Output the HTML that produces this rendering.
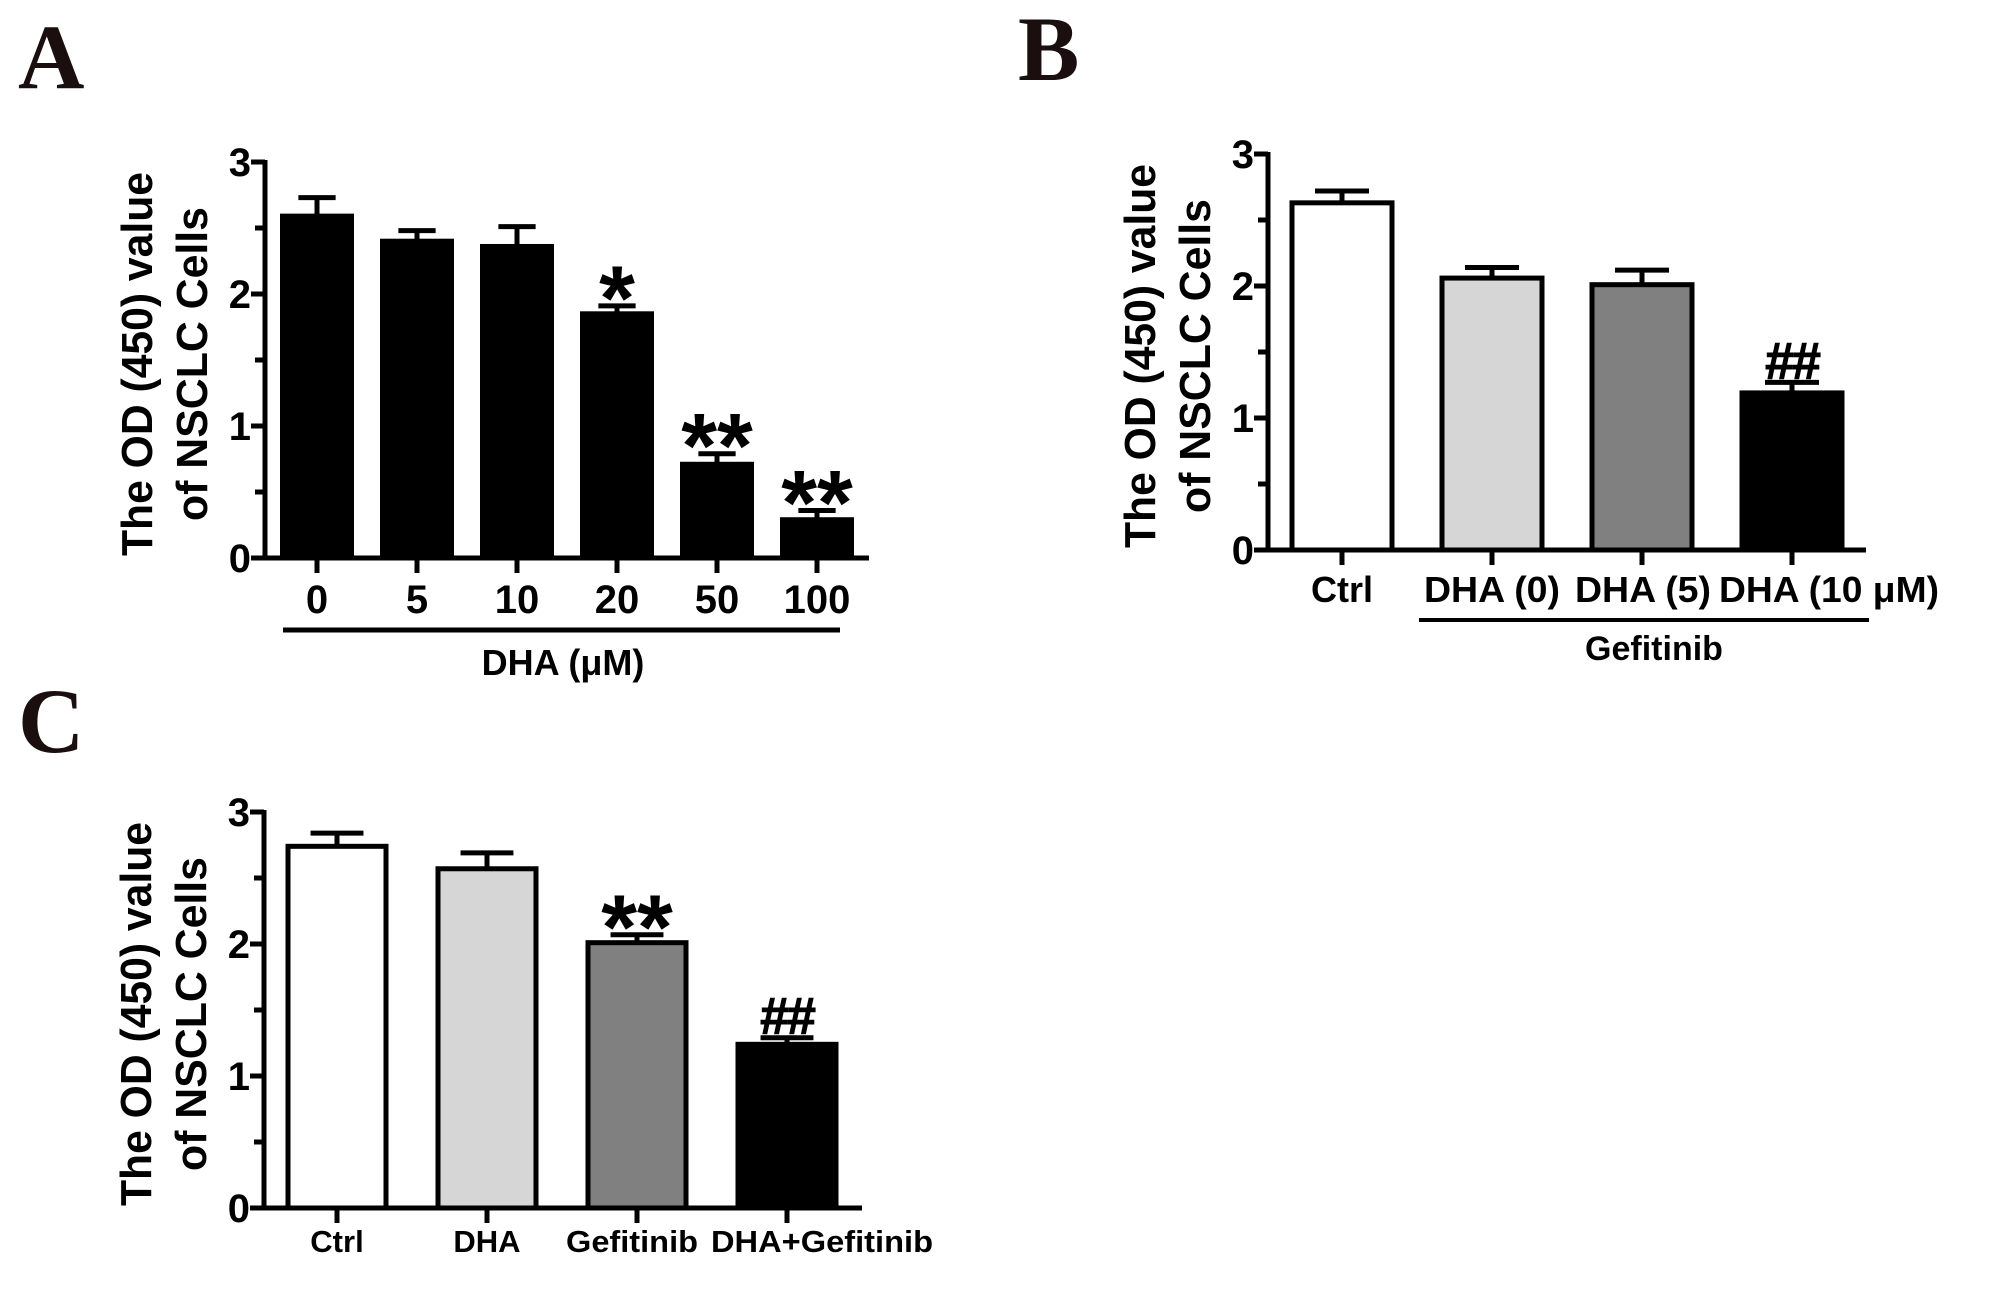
<!DOCTYPE html>
<html><head><meta charset="utf-8"><style>
html,body{margin:0;padding:0;background:#fff;}
svg{display:block;}
text{font-family:"Liberation Sans",Arial,sans-serif;font-weight:bold;fill:#000;}
.lab{font-family:"Liberation Serif",serif;font-weight:bold;fill:#1a0e0e;}
</style></head><body>
<svg id="fig" width="2008" height="1312" viewBox="0 0 2008 1312">
<text class="lab" x="18" y="88" font-size="92">A</text>
<text class="lab" x="1018" y="80" font-size="92">B</text>
<text class="lab" x="18" y="752" font-size="92">C</text>
</svg>
<script>
// Panel A data
const catsA = ["0","5","10","20","50","100"];
const valsA = [2.59, 2.40, 2.36, 1.85, 0.71, 0.29];
const errA  = [0.14, 0.08, 0.15, 0.06, 0.08, 0.07];
const sigA  = ["", "", "", "*", "**", "**"];
const fillA = ["#000","#000","#000","#000","#000","#000"];
// Panel B data
const catsB = ["Ctrl","DHA (0)","DHA (5)","DHA (10 \u03bcM)"];
const valsB = [2.63, 2.06, 2.01, 1.19];
const errB  = [0.09, 0.08, 0.11, 0.08];
const sigB  = ["", "", "", "##"];
const fillB = ["#fff","#d6d6d6","#808080","#000"];
// Panel C data
const catsC = ["Ctrl","DHA","Gefitinib","DHA+Gefitinib"];
const valsC = [2.74, 2.57, 2.01, 1.24];
const errC  = [0.10, 0.12, 0.06, 0.05];
const sigC  = ["", "", "**", "##"];
const fillC = ["#fff","#d6d6d6","#808080","#000"];
const yTicks = ["0","1","2","3"];

const NS = "http://www.w3.org/2000/svg";
const svg = document.getElementById('fig');
function mk(tag, attrs, parent){
  const e = document.createElementNS(NS, tag);
  for (const k in attrs) e.setAttribute(k, attrs[k]);
  (parent||svg).appendChild(e); return e;
}
function panel(p){
  const g = mk('g', {});
  
  
  const y = v => p.y0 - (p.y0 - p.y3) * v / 3;
  const xc = i => p.c0 + p.pitch * i;
  const ax = mk('line', {x1:p.ax, y1:p.y3-2, x2:p.ax, y2:p.y0+2, stroke:'#000','stroke-width':5}, g);
  
  
  for (let k = 0; k <= 6; k++){
    const v = k/2, yy = y(v);
    mk('line', {x1:p.ax-(k%2?10:14), y1:yy, x2:p.ax, y2:yy, stroke:'#000','stroke-width':5}, g);
  }
  yTicks.forEach((t,i)=>{
    const tx = mk('text', {x:p.ax-14, y:y(+t)+14, 'font-size':40, 'text-anchor':'end'}, g);
    tx.textContent = t;
    
    
  });
  const xa = mk('line', {x1:p.ax-14, y1:p.y0, x2:p.xend, y2:p.y0, stroke:'#000','stroke-width':5}, g);
  
  
  const cy = (p.y3 + p.y0)/2 + 4;
  const t1 = mk('text', {x:0, y:0, 'font-size':44, 'text-anchor':'middle', textLength:384, lengthAdjust:'spacingAndGlyphs', transform:`translate(${p.ax-113},${cy}) rotate(-90)`}, g);
  t1.textContent = 'The OD (450) value';
  
  
  const t2 = mk('text', {x:0, y:0, 'font-size':44, 'text-anchor':'middle', textLength:314, lengthAdjust:'spacingAndGlyphs', transform:`translate(${p.ax-58},${cy}) rotate(-90)`}, g);
  t2.textContent = 'of NSCLC Cells';
  
  
  p.cats.forEach((c,i)=>{
    const cx = xc(i), top = y(p.vals[i]), et = y(p.vals[i] + p.err[i]);
    mk('line', {x1:cx, y1:top, x2:cx, y2:et, stroke:'#000','stroke-width':5}, g);
    mk('line', {x1:cx-p.bw*0.27, y1:et, x2:cx+p.bw*0.27, y2:et, stroke:'#000','stroke-width':5}, g);
    const r = mk('rect', {x:cx-p.bw/2, y:top, width:p.bw, height:p.y0-top, fill:p.fill[i], stroke:'#000','stroke-width':5}, g);
    
    
    mk('line', {x1:cx, y1:p.y0, x2:cx, y2:p.y0+15, stroke:'#000','stroke-width':5}, g);
    const off = p.toff ? p.toff[i] : 0;
    const tl = mk('text', {x:cx+off, y:p.tly, 'font-size':p.tfs, 'text-anchor':'middle'}, g);
    if (p.tlen && p.tlen[i]) { tl.setAttribute('textLength', p.tlen[i]); tl.setAttribute('lengthAdjust','spacingAndGlyphs'); }
    tl.textContent = c;
    
    
    if (p.sig[i]){
      const isStar = p.sig[i][0] === '*';
      const s = isStar
        ? mk('text', {x:cx, y: et + 24, 'font-size': 92, 'text-anchor':'middle'}, g)
        : mk('text', {x:cx, y: et - 4, 'font-size': 52, 'text-anchor':'middle', 'letter-spacing': -2, stroke:'#000', 'stroke-width':1}, g);
      s.textContent = p.sig[i];
      
      
    }
  });
  return g;
}
panel({name:'panel-a-chart', ax:265, y3:162, y0:558, xend:869, c0:317, pitch:100, bw:69,
  cats:catsA, vals:valsA, err:errA, sig:sigA, fill:fillA, tly:613, tfs:40});
panel({name:'panel-b-chart', ax:1268, y3:154, y0:550, xend:1866, c0:1342, pitch:150, bw:100,
  cats:catsB, vals:valsB, err:errB, sig:sigB, fill:fillB, tly:602, tfs:36, tlen:[0,136,136,220], toff:[0,0,1,37]});
panel({name:'panel-c-chart', ax:264, y3:812, y0:1208, xend:862, c0:337, pitch:150, bw:98,
  cats:catsC, vals:valsC, err:errC, sig:sigC, fill:fillC, tly:1252, tfs:31, tlen:[0,0,132,222], toff:[0,0,-5,35]});

let l = mk('line', {x1:283, y1:630, x2:840, y2:630, stroke:'#000','stroke-width':5});


let t = mk('text', {x:563, y:675, 'font-size':36, 'text-anchor':'middle'});
t.textContent = 'DHA (\u03bcM)';


l = mk('line', {x1:1419, y1:620, x2:1869, y2:620, stroke:'#000','stroke-width':4});


t = mk('text', {x:1654, y:660, 'font-size':34, 'text-anchor':'middle'});
t.textContent = 'Gefitinib';


</script>
</body></html>
